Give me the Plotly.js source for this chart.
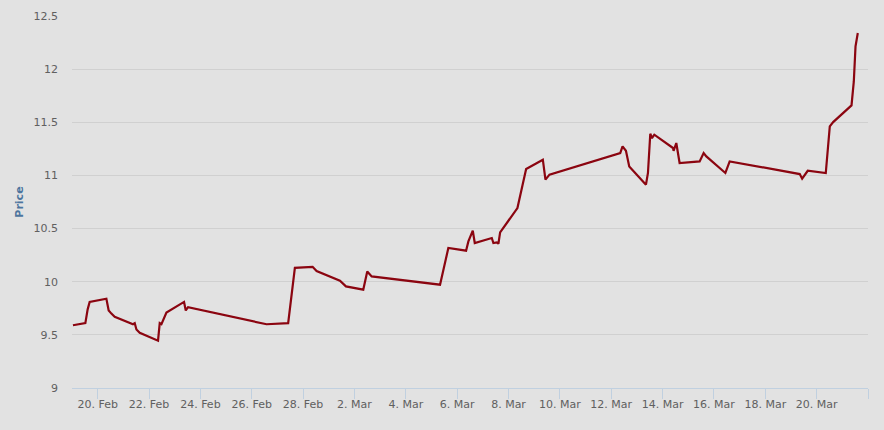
<!DOCTYPE html>
<html>
<head>
<meta charset="utf-8">
<script src="https://cdn.plot.ly/plotly-3.0.1.min.js"></script>
<style>html,body{margin:0;padding:0;background:#e2e2e2;}#chart{width:884px;height:430px;}</style>
</head>
<body>
<div id="chart"></div>
<script>
var dates = [
  '2015-02-19 00:53','2015-02-19 12:29','2015-02-19 14:38','2015-02-19 16:31',
  '2015-02-20 08:08','2015-02-20 10:17','2015-02-20 12:49','2015-02-20 15:55',
  '2015-02-21 09:01','2015-02-21 10:38','2015-02-21 12:13','2015-02-21 15:18',
  '2015-02-22 08:25','2015-02-22 10:00','2015-02-22 11:35','2015-02-22 16:16',
  '2015-02-23 08:44','2015-02-23 10:20','2015-02-23 12:29',
  '2015-02-26 13:51','2015-02-27 10:03','2015-02-27 16:19',
  '2015-02-28 08:53','2015-02-28 12:37',
  '2015-03-01 10:26','2015-03-01 16:03',
  '2015-03-02 08:14','2015-03-02 11:58','2015-03-02 16:06',
  '2015-03-05 08:00','2015-03-05 15:46',
  '2015-03-06 08:20','2015-03-06 10:29','2015-03-06 14:36','2015-03-06 16:28',
  '2015-03-07 08:22','2015-03-07 09:52','2015-03-07 13:03','2015-03-07 14:33','2015-03-07 16:09',
  '2015-03-08 08:20','2015-03-08 12:27','2015-03-08 16:28',
  '2015-03-09 08:05','2015-03-09 10:32','2015-03-09 14:17',
  '2015-03-12 08:25','2015-03-12 10:35','2015-03-12 13:45','2015-03-12 16:50',
  '2015-03-13 08:28','2015-03-13 10:20','2015-03-13 12:30','2015-03-13 14:05','2015-03-13 16:15',
  '2015-03-14 09:45','2015-03-14 10:18','2015-03-14 12:49','2015-03-14 15:55',
  '2015-03-15 10:38','2015-03-15 14:23','2015-03-15 16:54',
  '2015-03-16 10:41','2015-03-16 14:42',
  '2015-03-19 08:12','2015-03-19 10:27','2015-03-19 15:41',
  '2015-03-20 08:32','2015-03-20 12:17','2015-03-20 15:27',
  '2015-03-21 08:35','2015-03-21 10:44','2015-03-21 12:20','2015-03-21 14:28'
];
var prices = [
  9.59, 9.61, 9.74, 9.81,
  9.84, 9.73, 9.70, 9.67,
  9.60, 9.61, 9.55, 9.52,
  9.445, 9.61, 9.60, 9.71,
  9.81, 9.73, 9.76,
  9.60, 9.61, 10.13,
  10.14, 10.10,
  10.01, 9.956,
  9.925, 10.097, 10.05,
  9.972, 10.317,
  10.292, 10.379, 10.48, 10.364,
  10.411, 10.364, 10.37, 10.357, 10.464,
  10.693, 10.897, 11.06,
  11.148, 10.96, 11.007,
  11.211, 11.273, 11.232, 11.085,
  10.913, 11.023, 11.392, 11.352, 11.383,
  11.258, 11.232, 11.305, 11.117,
  11.132, 11.211, 11.179,
  11.023, 11.132,
  11.013, 10.969, 11.044,
  11.023, 11.461, 11.502,
  11.659, 11.884, 12.214, 12.34
];
var yTicks = [9, 9.5, 10, 10.5, 11, 11.5, 12, 12.5];
var yTickLabels = ['9', '9.5', '10', '10.5', '11', '11.5', '12', '12.5'];

var trace = {
  x: dates, y: prices, type: 'scatter', mode: 'lines',
  line: {color: '#8b0510', width: 2.2}, hoverinfo: 'x+y'
};
var layout = {
  width: 884, height: 430,
  paper_bgcolor: '#e2e2e2', plot_bgcolor: '#e2e2e2',
  margin: {l: 72.35, r: 16.4, t: 16, b: 41.7, pad: 0},
  showlegend: false,
  font: {family: 'DejaVu Sans, Verdana, sans-serif', size: 11, color: '#606060'},
  xaxis: {
    type: 'date',
    range: ['2015-02-19 00:00', '2015-03-22 00:00'],
    tick0: '2015-02-20', dtick: 172800000,
    tickformat: '%-d. %b',
    showgrid: false, zeroline: false,
    showline: true, linecolor: '#c0d0e0', linewidth: 1,
    ticks: 'outside', ticklen: 10, tickcolor: '#c0d0e0', tickwidth: 1,
    ticklabelstandoff: -4,
    tickfont: {family: 'DejaVu Sans, Verdana, sans-serif', size: 11, color: '#606060'},
    fixedrange: true
  },
  yaxis: {
    range: [9, 12.5],
    tickmode: 'array', tickvals: yTicks, ticktext: yTickLabels,
    showgrid: true, gridcolor: '#d0d0d0', gridwidth: 1,
    zeroline: false, showline: false, ticks: '',
    ticklabelstandoff: 13,
    tickfont: {family: 'DejaVu Sans, Verdana, sans-serif', size: 11, color: '#606060'},
    title: {text: 'Price', font: {family: 'DejaVu Sans, Verdana, sans-serif', size: 11, color: '#4d759e', weight: 'bold'}, standoff: 7},
    fixedrange: true
  }
};
Plotly.newPlot('chart', [trace], layout, {displayModeBar: false, staticPlot: true});
</script>
</body>
</html>
